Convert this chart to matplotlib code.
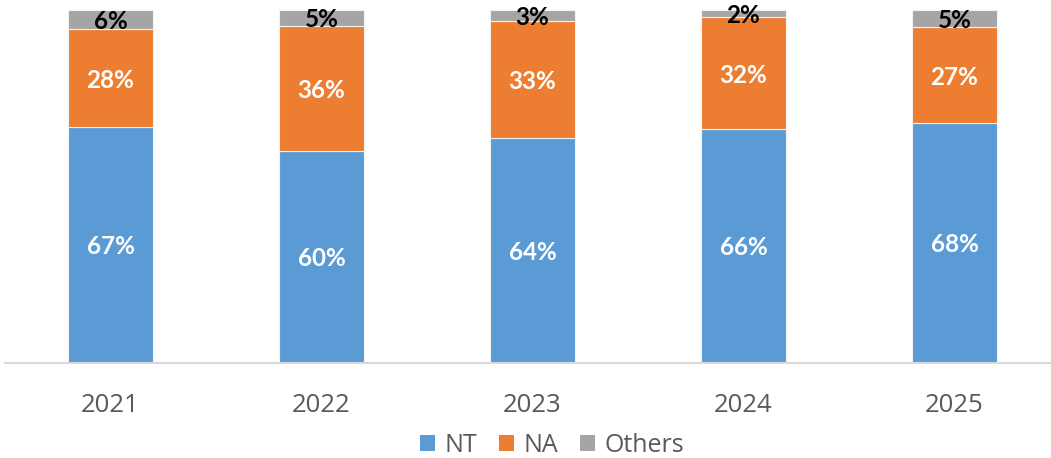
import matplotlib
matplotlib.use("Agg")
import matplotlib.pyplot as plt
import numpy as np

years = ["2021", "2022", "2023", "2024", "2025"]
nt = [66.7, 59.8, 63.6, 66.1, 67.8]
na = [27.7, 35.6, 33.2, 31.7, 27.2]
others = [5.6, 4.6, 3.2, 2.2, 5.0]
nt_labels = ["67%", "60%", "64%", "66%", "68%"]
na_labels = ["28%", "36%", "33%", "32%", "27%"]
others_labels = ["6%", "5%", "3%", "2%", "5%"]

plt.rcParams['font.family'] = ['Open Sans', 'DejaVu Sans']

W, H = 1051, 458
fig = plt.figure(figsize=(W / 100, H / 100), dpi=100)
ax = fig.add_axes([5 / W, 95.5 / H, 1046 / W, 353 / H])

x = np.arange(len(years))
bw = 0.4
ekw = dict(edgecolor="#f2f2f2", linewidth=0.8)
b1 = ax.bar(x, nt, bw, color="#5B9BD5", label="NT", **ekw)
b2 = ax.bar(x, na, bw, bottom=nt, color="#ED7D31", label="NA", **ekw)
bottom2 = np.array(nt) + np.array(na)
b3 = ax.bar(x, others, bw, bottom=bottom2, color="#A5A5A5", label="Others", **ekw)

lab_font = dict(family=['Lato', 'DejaVu Sans'], fontsize=17.5, fontweight="bold")
texts = []
texts += ax.bar_label(b1, labels=nt_labels, label_type="center", color="white", **lab_font)
texts += ax.bar_label(b2, labels=na_labels, label_type="center", color="white", **lab_font)
texts += ax.bar_label(b3, labels=others_labels, label_type="center", color="black", **lab_font)
for t in texts:
    t.set_va("center_baseline")

ax.set_xlim(-0.5, -0.5 + 1046 / 211)
ax.set_ylim(0, 100)
ax.set_xticks(x)
ax.set_xticklabels(years, fontsize=18.5, color="#595959")
ax.tick_params(axis="x", length=0, pad=22)
ax.set_yticks([])
for s in ["top", "right", "left"]:
    ax.spines[s].set_visible(False)
ax.spines["bottom"].set_color("#d9d9d9")
ax.spines["bottom"].set_linewidth(1.5)

leg = fig.legend(handles=[b1, b2, b3], loc="center", bbox_to_anchor=(552 / W, 1 - 445 / H),
                 ncol=3, frameon=False, fontsize=18, handlelength=0.6, handleheight=0.6,
                 handletextpad=0.4, columnspacing=0.85, labelcolor="#595959")
for h in leg.legend_handles:
    h.set_edgecolor("none")

fig.savefig("out.png", dpi=100)
